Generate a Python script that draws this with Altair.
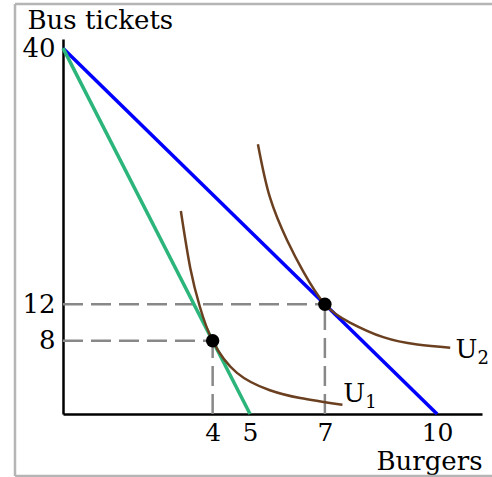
import altair as alt
import pandas as pd

FONT = "DejaVu Serif"

# Axis tick values
burger_ticks = [4, 5, 7, 10]
ticket_ticks = [8, 12, 40]

# Budget lines (burgers, bus tickets)
old_budget_x = [0, 10]
old_budget_y = [40, 0]
new_budget_x = [0, 5]
new_budget_y = [40, 0]

# Indifference curves
u1_x = [3.15, 3.40, 3.66, 4.0, 4.65, 5.53, 6.34, 7.47]
u1_y = [22.2, 16.0, 11.7, 8.0, 4.5, 2.6, 1.75, 1.0]
u2_x = [5.21, 5.53, 5.99, 6.42, 7.0, 7.67, 8.56, 9.47, 10.35]
u2_y = [29.5, 23.7, 19.0, 15.6, 12.0, 10.0, 8.4, 7.6, 7.25]

# Optimal bundles
optimum_x = [4, 7]
optimum_y = [8, 12]

# Curve labels
label_names = ["U", "U"]
label_subs = ["1", "2"]
label_x = [7.49, 10.49]
label_y = [1.31, 6.12]

budget = pd.DataFrame(
    {"burgers": old_budget_x + new_budget_x,
     "tickets": old_budget_y + new_budget_y,
     "line": ["old"] * 2 + ["new"] * 2}
)
curves = pd.DataFrame(
    {"burgers": u1_x + u2_x,
     "tickets": u1_y + u2_y,
     "curve": ["U1"] * len(u1_x) + ["U2"] * len(u2_x)}
)
optima = pd.DataFrame({"burgers": optimum_x, "tickets": optimum_y,
                       "zero": [0, 0]})
labels = pd.DataFrame({"name": label_names, "sub": label_subs,
                       "burgers": label_x, "tickets": label_y})

xscale = alt.Scale(domain=[0, 11.2], nice=False, zero=False)
yscale = alt.Scale(domain=[0, 41], nice=False, zero=False)

x_axis = alt.Axis(
    values=burger_ticks, grid=False, ticks=False, domainColor="black",
    domainWidth=2.5, labelFont=FONT, labelFontSize=25, labelColor="black",
    labelPadding=6, labelOverlap=False, labelFlush=False,
    title="Burgers", titleFont=FONT, titleFontSize=26, titleFontWeight="normal",
    titleColor="black", titleX=419, titleY=55, titleAlign="right",
    titleBaseline="alphabetic",
)
y_axis = alt.Axis(
    values=ticket_ticks, grid=False, ticks=False, domainColor="black",
    domainWidth=2.5, labelFont=FONT, labelFontSize=26, labelColor="black",
    labelPadding=8, labelOverlap=False, labelFlush=False,
    title="Bus tickets", titleFont=FONT, titleFontSize=26,
    titleFontWeight="normal", titleColor="black", titleAngle=0,
    titleX=-36, titleY=-11, titleAlign="left", titleBaseline="alphabetic",
)


def X(field):
    return alt.X(field, scale=xscale, axis=x_axis)


def Y(field):
    return alt.Y(field, scale=yscale, axis=y_axis)


# Light frame around the figure: left, top and bottom edges
one_row = pd.DataFrame({"a": [0]})
frame_style = dict(color="#b5b5b5", strokeWidth=2.5)
frame_left = alt.Chart(one_row).mark_rule(**frame_style).encode(
    x=alt.value(-48), y=alt.value(-35), y2=alt.value(437)
)
frame_top = alt.Chart(one_row).mark_rule(**frame_style).encode(
    x=alt.value(-48), x2=alt.value(470), y=alt.value(-35)
)
frame_bottom = alt.Chart(one_row).mark_rule(**frame_style).encode(
    x=alt.value(-48), x2=alt.value(470), y=alt.value(437)
)

budget_lines = alt.Chart(budget).mark_line(strokeWidth=3.5).encode(
    x=X("burgers:Q"),
    y=Y("tickets:Q"),
    color=alt.Color("line:N", scale=alt.Scale(domain=["old", "new"],
                                              range=["#0000ff", "#2bb57b"]),
                    legend=None),
    detail="line:N",
)

curve_lines = alt.Chart(curves).mark_line(
    strokeWidth=2.5, color="#6b4020", interpolate="natural"
).encode(
    x=X("burgers:Q"),
    y=Y("tickets:Q"),
    detail="curve:N",
)

guide_style = dict(color="#888888", strokeWidth=2.5, strokeDash=[20, 8])
h_guides = alt.Chart(optima).mark_rule(**guide_style).encode(
    x=X("zero:Q"),
    x2="burgers:Q",
    y=Y("tickets:Q"),
)
v_guides = alt.Chart(optima).mark_rule(**guide_style).encode(
    x=X("burgers:Q"),
    y=Y("zero:Q"),
    y2="tickets:Q",
)

points = alt.Chart(optima).mark_point(
    filled=True, size=180, color="black", opacity=1
).encode(
    x=X("burgers:Q"),
    y=Y("tickets:Q"),
)

label_main = alt.Chart(labels).mark_text(
    font=FONT, fontSize=26, align="left", baseline="alphabetic", color="black"
).encode(
    x=X("burgers:Q"),
    y=Y("tickets:Q"),
    text="name:N",
)
label_sub = alt.Chart(labels).mark_text(
    font=FONT, fontSize=18, align="left", baseline="alphabetic", color="black",
    dx=22, dy=6,
).encode(
    x=X("burgers:Q"),
    y=Y("tickets:Q"),
    text="sub:N",
)

chart = alt.layer(
    frame_left, frame_top, frame_bottom, h_guides, v_guides, budget_lines,
    curve_lines, points, label_main, label_sub,
).properties(
    width=419, height=375,
    autosize=alt.AutoSizeParams(type="none"),
    padding={"left": 63, "top": 39, "right": 10, "bottom": 63},
).configure(background="white").configure_view(strokeWidth=0)

chart.save("out.html", embed_options={"renderer": "svg", "actions": False})
